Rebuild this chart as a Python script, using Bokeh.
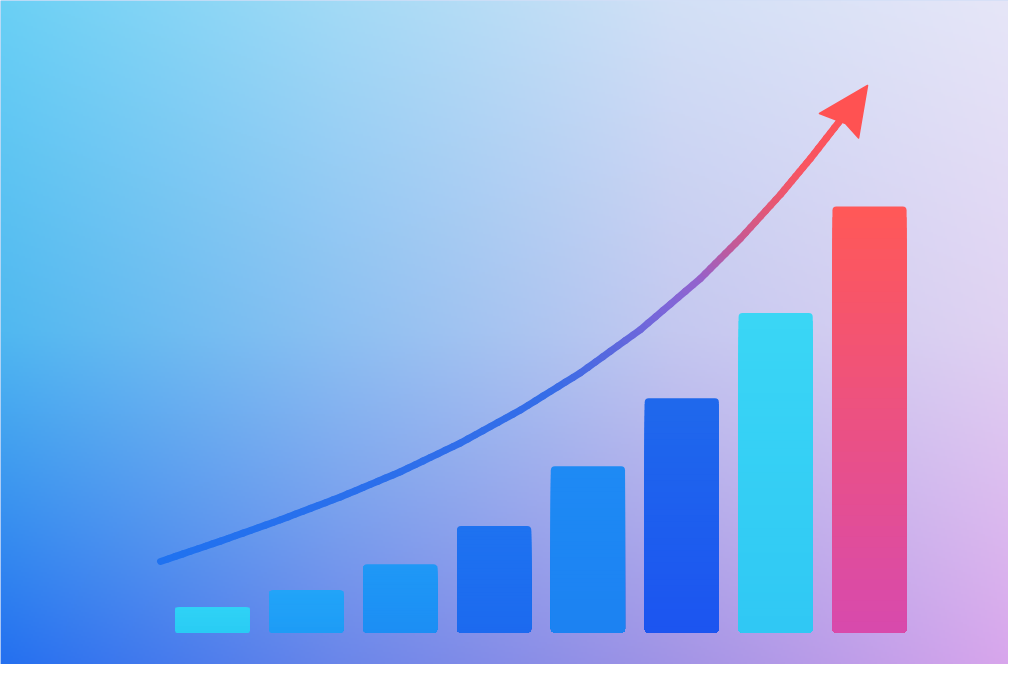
import numpy as np
from bokeh.plotting import figure
from bokeh.models import Range1d
from bokeh.embed import file_html
from bokeh.resources import INLINE

# ---------------- data ----------------
categories = ["1", "2", "3", "4", "5", "6", "7", "8"]
values = [6, 10, 16, 25, 39, 55, 75, 100]

# trend curve (category position, value units)
trend_x = [0.446, 1.085, 1.725, 2.364, 3.003, 3.642, 4.282,
           4.921, 5.560, 6.199, 6.625, 7.052, 7.371, 7.712]
trend_y = [16.67, 21.46, 26.46, 31.81, 37.73, 44.49, 52.23,
           60.97, 71.11, 83.10, 92.49, 102.82, 111.27, 120.90]

# arrow head (tip, back-left, notch, back-right)
head_x = [7.979, 7.467, 7.744, 7.883]
head_y = [128.41, 121.83, 119.49, 116.08]

# ---------------- styles ----------------
bar_top_colors = ["#30d2f6", "#22a4f8", "#1f98f6", "#1e72f0",
                  "#1e8af4", "#1f68ec", "#3ad6f5", "#ff5858"]
bar_bottom_colors = ["#2accf4", "#1e9cf6", "#1c8ef4", "#1c6aef",
                     "#1c82f2", "#1c55f0", "#30c8f4", "#d84aac"]
BAR_W = 0.79
RADIUS = 4

curve_stops_x = [0.4, 4.6, 5.3, 5.9, 6.2, 6.55, 6.95, 7.3, 8.0]
curve_stops_c = ["#1f72f0", "#356de8", "#5a68de", "#8066d8",
                 "#9462cc", "#c05a9a", "#e45876", "#f85562", "#ff5252"]

X0, X1 = -1.2587, 9.4807
Y0, Y1 = -7.51, 148.36


def hex2rgb(h):
    h = h.lstrip("#")
    return np.array([int(h[i:i + 2], 16) for i in (0, 2, 4)], dtype=float)


def rgb2hex(c):
    c = np.clip(np.round(c), 0, 255).astype(int)
    return "#%02x%02x%02x" % tuple(c)


def mix(a, b, t):
    return rgb2hex(hex2rgb(a) * (1 - t) + hex2rgb(b) * t)


p = figure(width=1008, height=664, x_range=Range1d(X0, X1), y_range=Range1d(Y0, Y1),
           output_backend="svg", toolbar_location=None, min_border=0,
           outline_line_color=None, background_fill_color="#a8c0f0")
p.axis.visible = False
p.grid.visible = False

# ---------------- background gradient ----------------
grid_cols = [
    ["#6ad0f5", "#a2daf6", "#d2e0f6", "#e6e6f8"],   # top
    ["#50b8f0", "#8cc0f2", "#c4c8f0", "#e0d2f2"],   # middle
    ["#2470f0", "#6a86ea", "#a294e6", "#d8a6ec"],   # bottom
]
G = np.array([[hex2rgb(c) for c in row] for row in grid_cols])
W, H = 504, 332
u = np.linspace(0, 1, W)
v = np.linspace(0, 1, H)  # 0 = top
gx = np.linspace(0, 1, G.shape[1])
gy = np.linspace(0, 1, G.shape[0])
rows = np.zeros((G.shape[0], W, 3))
for r in range(G.shape[0]):
    for ch in range(3):
        rows[r, :, ch] = np.interp(u, gx, G[r, :, ch])
img_rgb = np.zeros((H, W, 3))
for ch in range(3):
    for j in range(W):
        img_rgb[:, j, ch] = np.interp(v, gy, rows[:, j, ch])
img_rgb = img_rgb[::-1]  # bokeh row 0 = bottom
img = np.empty((H, W), dtype=np.uint32)
view = img.view(dtype=np.uint8).reshape((H, W, 4))
for ch in range(3):
    view[:, :, ch] = img_rgb[:, :, ch].astype(np.uint8)
view[:, :, 3] = 255
p.image_rgba(image=[img], x=X0, y=Y0, dw=X1 - X0, dh=Y1 - Y0)

# ---------------- bars ----------------
positions = [i + 1 for i in range(len(categories))]
p.quad(left=[x - BAR_W / 2 for x in positions], right=[x + BAR_W / 2 for x in positions],
       bottom=[0] * len(values), top=values, fill_color=bar_top_colors,
       line_color=None, border_radius=RADIUS)

N = 40
sl_l, sl_r, sl_t, sl_c = [], [], [], []
for i, val in enumerate(values):
    for k in range(1, N):
        sl_l.append(positions[i] - BAR_W / 2)
        sl_r.append(positions[i] + BAR_W / 2)
        sl_t.append(val * (1 - k / N))
        sl_c.append(mix(bar_top_colors[i], bar_bottom_colors[i], k / (N - 1)))
p.quad(left=sl_l, right=sl_r, bottom=[0] * len(sl_t), top=sl_t, fill_color=sl_c,
       line_color=None, border_radius=(0, 0, RADIUS, RADIUS))

# ---------------- trend arrow ----------------
SUB = 8
sx0, sy0, sx1, sy1, sc = [], [], [], [], []
for i in range(len(trend_x) - 1):
    for s in range(SUB):
        a = s / SUB
        b = (s + 1) / SUB
        xa = trend_x[i] + (trend_x[i + 1] - trend_x[i]) * a
        ya = trend_y[i] + (trend_y[i + 1] - trend_y[i]) * a
        xb = trend_x[i] + (trend_x[i + 1] - trend_x[i]) * b
        yb = trend_y[i] + (trend_y[i + 1] - trend_y[i]) * b
        xm = (xa + xb) / 2
        rgb = [np.interp(xm, curve_stops_x, [hex2rgb(c)[ch] for c in curve_stops_c])
               for ch in range(3)]
        sx0.append(xa); sy0.append(ya); sx1.append(xb); sy1.append(yb)
        sc.append(rgb2hex(np.array(rgb)))
p.segment(x0=sx0, y0=sy0, x1=sx1, y1=sy1, line_color=sc, line_width=7,
          line_cap="round")

p.patch(x=head_x, y=head_y, fill_color="#ff5252", line_color="#ff5252",
        line_width=1.5, line_join="round")

open("out.html", "w").write(file_html(p, INLINE))
